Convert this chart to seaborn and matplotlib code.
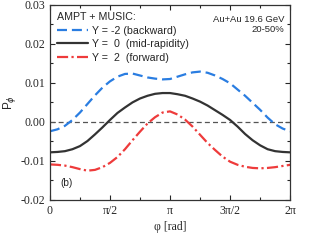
import numpy as np
import pandas as pd
import matplotlib
matplotlib.use("Agg")
import matplotlib.pyplot as plt
import seaborn as sns

# --- data (steps of pi/16) ---
phi = np.arange(33) * np.pi / 16
p_backward = [-0.0024, -0.0019, -0.0010, 0.0005, 0.0024, 0.0046, 0.0068, 0.0088, 0.0104,
              0.0116, 0.0123, 0.0124, 0.0119, 0.0114, 0.0111, 0.0109, 0.0110, 0.0116,
              0.0122, 0.0127, 0.0129, 0.0126, 0.0119, 0.0110, 0.0099, 0.0083, 0.0067,
              0.0049, 0.0031, 0.0011, -0.0006, -0.0017, -0.0024]
p_mid = [-0.0078, -0.0077, -0.0075, -0.0070, -0.0062, -0.0049, -0.0032, -0.0014, 0.0005,
         0.0023, 0.0037, 0.0050, 0.0060, 0.0067, 0.0072, 0.0074, 0.0074, 0.0071,
         0.0067, 0.0060, 0.0052, 0.0042, 0.0030, 0.0018, 0.0005, -0.0012, -0.0031,
         -0.0047, -0.0060, -0.0070, -0.0075, -0.0077, -0.0078]
p_forward = [-0.0109, -0.0110, -0.0112, -0.0116, -0.0121, -0.0125, -0.0123, -0.0116, -0.0105,
             -0.0090, -0.0070, -0.0047, -0.0025, -0.0004, 0.0012, 0.0024, 0.0027, 0.0019,
             0.0006, -0.0012, -0.0033, -0.0054, -0.0072, -0.0089, -0.0102, -0.0110, -0.0115,
             -0.0118, -0.0119, -0.0118, -0.0116, -0.0113, -0.0110]

labels = ["Y = -2 (backward)", "Y =  0  (mid-rapidity)", "Y =  2  (forward)"]
colors = ["#2a7de1", "#333333", "#ee3b3b"]
styles = [(0, (4.5, 2.2)), "-", (0, (5, 1.5, 1, 1.5))]

xtick_vals = [0, np.pi / 2, np.pi, 3 * np.pi / 2, 2 * np.pi]
xtick_labels = ["0", "π/2", "π", "3π/2", "2π"]
ytick_vals = [-0.02, -0.01, 0.0, 0.01, 0.02, 0.03]

sns.set_style("ticks")
plt.rcParams["font.family"] = ["Liberation Serif", "DejaVu Serif"]

fig, ax = plt.subplots(figsize=(3.14, 2.45), dpi=100)
fig.subplots_adjust(left=0.159, right=0.924, top=0.98, bottom=0.184)

ax.axhline(0, color="#555555", lw=0.9, ls=(0, (4, 2.5)), zorder=1)

for ys, lab, c, ls in zip([p_backward, p_mid, p_forward], labels, colors, styles):
    df = pd.DataFrame({"phi": phi, "P": ys})
    sns.lineplot(data=df, x="phi", y="P", ax=ax, color=c, lw=1.6, label=lab)
    ax.lines[-1].set_linestyle(ls)

ax.set_xlim(0, 2 * np.pi)
ax.set_ylim(-0.02, 0.03)
ax.set_xticks(xtick_vals)
ax.set_xticklabels(xtick_labels)
ax.set_xticks(np.arange(9) * np.pi / 4, minor=True)
ax.set_yticks(ytick_vals)
ax.set_yticklabels(["%.2f" % v for v in ytick_vals])
ax.set_yticks(np.arange(-0.02, 0.0301, 0.005), minor=True)
ax.tick_params(which="both", direction="in", top=True, right=True, labelsize=8.5, width=0.8)
ax.tick_params(which="major", length=3.5)
ax.tick_params(which="minor", length=2)
for s in ax.spines.values():
    s.set_linewidth(0.9)
    s.set_color("#333333")

ax.set_xlabel("φ [rad]", fontsize=8.5, labelpad=3)
ax.set_ylabel(r"P$_\phi$", fontsize=8.5, family=["Liberation Sans"], labelpad=2)

leg = ax.legend(loc="upper left", frameon=False, title="AMPT + MUSIC:",
                prop={"family": "Liberation Sans", "size": 7.7},
                handlelength=2.9, handletextpad=0.35, labelspacing=0.32,
                borderaxespad=0.35, borderpad=0.35)
leg.get_title().set_fontsize(7.7)
leg.get_title().set_family("Liberation Sans")
leg._legend_box.align = "left"

ax.text(0.975, 0.9, "Au+Au 19.6 GeV\n20-50%", transform=ax.transAxes, ha="right",
        va="center", fontsize=6.8, family="Liberation Sans", multialignment="right",
        linespacing=1.1)
ax.text(0.045, 0.07, "(b)", transform=ax.transAxes, fontsize=7.3, family="Liberation Sans")

fig.savefig("out.png", dpi=100)
